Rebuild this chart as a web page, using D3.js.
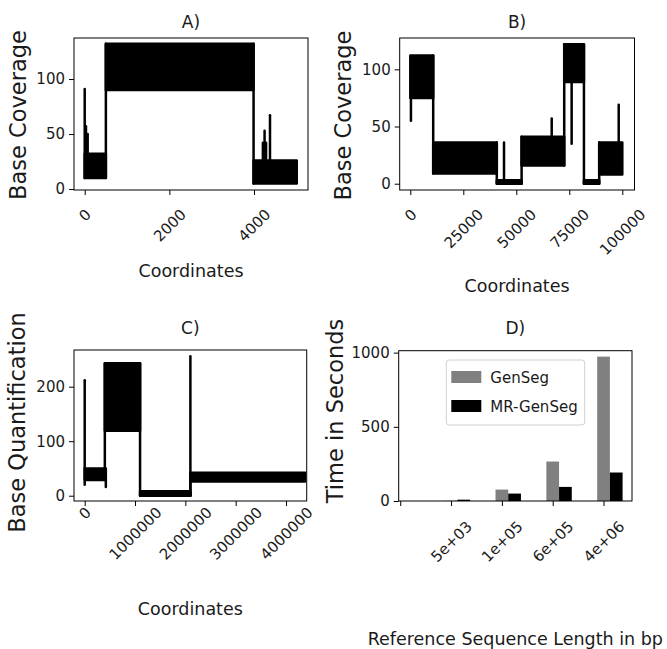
<!DOCTYPE html>
<html>
<head>
<meta charset="utf-8">
<script src="https://cdn.jsdelivr.net/npm/d3@7"></script>
<style>
  body { margin: 0; background: #fff; }
  svg text { font-family: "DejaVu Sans", sans-serif; fill: #1a1a1a; }
</style>
</head>
<body>
<div id="chart"></div>
<script>

// DATA
// coverage bands: [start, end, low, high]
const bandsA = [
  [0, 500, 10, 32],
  [500, 3990, 90, 132],
  [3990, 5010, 5, 26]
];
// single spikes: [position, low, high]
const spikesA = [
  [0, 10, 91], [30, 25, 57], [70, 25, 50],
  [4210, 20, 42], [4250, 20, 53], [4285, 20, 42], [4378, 20, 67]
];
const xTicksA = [0, 2000, 4000];
const yTicksA = [0, 50, 100];

const bandsB = [
  [0, 10800, 75, 112],
  [10800, 40800, 9, 36],
  [40800, 52500, 0, 3],
  [52500, 72600, 16, 41],
  [72600, 81900, 89, 122],
  [81900, 89100, 0, 3],
  [89100, 100000, 8, 36]
];
const spikesB = [
  [300, 55, 75], [44200, 3, 36], [66700, 41, 57], [76100, 35, 89], [98300, 36, 69]
];
const xTicksB = [0, 25000, 50000, 75000, 100000];
const yTicksB = [0, 50, 100];

const bandsC = [
  [0, 400000, 29, 50],
  [400000, 1100000, 119, 243],
  [1100000, 2100000, 0, 8],
  [2100000, 4380000, 26, 42]
];
const spikesC = [
  [0, 20, 212], [420000, 16, 50], [2100000, 0, 256]
];
const xTicksC = [0, 1000000, 2000000, 3000000, 4000000];
const yTicksC = [0, 100, 200];

// D) run time per reference length
const seqLabels = ["", "5e+03", "1e+05", "6e+05", "4e+06"];
const genSeg = [0, 1.5, 77, 266, 973];
const mrGenSeg = [0, 9, 50, 95, 192];
const seriesNames = ["GenSeg", "MR-GenSeg"];
const seriesColors = ["#808080", "#000000"];
const yTicksD = [0, 500, 1000];

const width = 667;
const height = 649;

const svg = d3.select("#chart")
  .append("svg")
  .attr("width", width)
  .attr("height", height);

svg.append("rect")
  .attr("width", width)
  .attr("height", height)
  .attr("fill", "#fff");

// rotated x tick labels, centred under their tick like matplotlib
function rotateLabels(axisG, gap) {
  axisG.selectAll(".tick text").each(function() {
    const t = d3.select(this);
    const w = this.getComputedTextLength();
    const box = (w + 11) / Math.SQRT2;
    t.attr("y", null)
      .attr("dy", null)
      .attr("text-anchor", "middle")
      .attr("dominant-baseline", "central")
      .attr("transform", `translate(0,${gap + box / 2}) rotate(-45)`);
  });
}

function styleAxis(axisG) {
  axisG.attr("font-size", 15).attr("font-family", "DejaVu Sans");
  axisG.select(".domain").remove();
  axisG.selectAll(".tick line").attr("stroke", "#000");
  axisG.selectAll(".tick text").attr("fill", "#1a1a1a");
}

function addLabels(opt) {
  svg.append("text")
    .attr("x", (opt.left + opt.right) / 2)
    .attr("y", opt.titleY)
    .attr("text-anchor", "middle")
    .attr("font-size", 17)
    .text(opt.title);

  svg.append("text")
    .attr("x", (opt.left + opt.right) / 2)
    .attr("y", opt.xLabelY)
    .attr("text-anchor", "middle")
    .attr("font-size", 17.5)
    .text(opt.xLabel);

  svg.append("text")
    .attr("transform", `translate(${opt.yLabelX},${opt.yLabelCY}) rotate(-90)`)
    .attr("text-anchor", "middle")
    .attr("font-size", 22.5)
    .text(opt.yLabel);
}

//  COVERAGE PANELS
function drawCoverage(opt) {
  const x = d3.scaleLinear().domain(opt.xDomain).range([opt.left, opt.right]);
  const y = d3.scaleLinear().domain(opt.yDomain).range([opt.bottom, opt.top]);

  const clipId = "clip-" + opt.title[0];
  svg.append("clipPath").attr("id", clipId)
    .append("rect")
    .attr("x", opt.left).attr("y", opt.top)
    .attr("width", opt.right - opt.left)
    .attr("height", opt.bottom - opt.top);

  const plot = svg.append("g").attr("clip-path", `url(#${clipId})`);

  // filled envelope of the dense line
  plot.selectAll("rect.band")
    .data(opt.bands)
    .enter()
    .append("rect")
    .attr("class", "band")
    .attr("x", d => x(d[0]))
    .attr("width", d => x(d[1]) - x(d[0]))
    .attr("y", d => y(d[3]))
    .attr("height", d => y(d[2]) - y(d[3]))
    .attr("fill", "#000")
    .attr("stroke", "#000")
    .attr("stroke-width", 2.5)
    .attr("stroke-linejoin", "round");

  // vertical jumps between consecutive bands
  const jumps = opt.bands.slice(1).map((d, i) => {
    const p = opt.bands[i];
    return [d[0], Math.min(p[2], d[2]), Math.max(p[3], d[3])];
  });

  plot.selectAll("line.spike")
    .data(jumps.concat(opt.spikes))
    .enter()
    .append("line")
    .attr("class", "spike")
    .attr("x1", d => x(d[0]))
    .attr("x2", d => x(d[0]))
    .attr("y1", d => y(d[1]))
    .attr("y2", d => y(d[2]))
    .attr("stroke", "#000")
    .attr("stroke-width", 2.5)
    .attr("stroke-linecap", "round");

  // FRAME
  svg.append("rect")
    .attr("x", opt.left).attr("y", opt.top)
    .attr("width", opt.right - opt.left)
    .attr("height", opt.bottom - opt.top)
    .attr("fill", "none")
    .attr("stroke", "#000")
    .attr("stroke-width", 1);

  const yAxis = svg.append("g")
    .attr("transform", `translate(${opt.left},0)`)
    .call(d3.axisLeft(y).tickValues(opt.yTicks).tickSize(5).tickPadding(4).tickFormat(d3.format("d")));
  styleAxis(yAxis);

  const xAxis = svg.append("g")
    .attr("transform", `translate(0,${opt.bottom})`)
    .call(d3.axisBottom(x).tickValues(opt.xTicks).tickSize(5).tickFormat(d3.format("d")));
  styleAxis(xAxis);
  rotateLabels(xAxis, opt.labelGap);

  addLabels(opt);
}

drawCoverage({
  title: "A)", xLabel: "Coordinates", yLabel: "Base Coverage",
  bands: bandsA, spikes: spikesA, xTicks: xTicksA, yTicks: yTicksA,
  xDomain: [-253, 5276], yDomain: [-0.9, 137.3],
  left: 74, right: 308, top: 38, bottom: 190,
  titleY: 28, xLabelY: 277, yLabelX: 26, yLabelCY: 115, labelGap: 18
});

drawCoverage({
  title: "B)", xLabel: "Coordinates", yLabel: "Base Coverage",
  bands: bandsB, spikes: spikesB, xTicks: xTicksB, yTicks: yTicksB,
  xDomain: [-5000, 105750], yDomain: [-5.5, 127.4],
  left: 399.7, right: 634.5, top: 38, bottom: 190,
  titleY: 28, xLabelY: 292, yLabelX: 351, yLabelCY: 115.5, labelGap: 18
});

drawCoverage({
  title: "C)", xLabel: "Coordinates", yLabel: "Base Quantification",
  bands: bandsC, spikes: spikesC, xTicks: xTicksC, yTicks: yTicksC,
  xDomain: [-212600, 4411000], yDomain: [-9.7, 267.3],
  left: 74, right: 306.7, top: 350, bottom: 501,
  titleY: 334, xLabelY: 615, yLabelX: 25, yLabelCY: 422.5, labelGap: 5
});

//  BAR PANEL (D)
const optD = {
  title: "D)", xLabel: "Reference Sequence Length in bp", yLabel: "Time in Seconds",
  left: 398.7, right: 632, top: 350.7, bottom: 501,
  titleY: 334, xLabelY: 645, yLabelX: 343, yLabelCY: 411
};

const xD = d3.scaleLinear().domain([-0.03, 4.56]).range([optD.left, optD.right]);
const yD = d3.scaleLinear().domain([0, 1013]).range([optD.bottom, optD.top]);
const barW = 0.25;

[genSeg, mrGenSeg].forEach((vals, s) => {
  svg.append("g")
    .selectAll("rect")
    .data(vals)
    .enter()
    .append("rect")
    .attr("x", (d, i) => xD(i - barW / 2 + s * barW))
    .attr("width", xD(barW) - xD(0))
    .attr("y", d => yD(d))
    .attr("height", d => yD(0) - yD(d))
    .attr("fill", seriesColors[s]);
});

svg.append("rect")
  .attr("x", optD.left).attr("y", optD.top)
  .attr("width", optD.right - optD.left)
  .attr("height", optD.bottom - optD.top)
  .attr("fill", "none")
  .attr("stroke", "#000")
  .attr("stroke-width", 1);

const yAxisD = svg.append("g")
  .attr("transform", `translate(${optD.left},0)`)
  .call(d3.axisLeft(yD).tickValues(yTicksD).tickSize(5).tickPadding(4).tickFormat(d3.format("d")));
styleAxis(yAxisD);

const xAxisD = svg.append("g")
  .attr("transform", `translate(0,${optD.bottom})`)
  .call(d3.axisBottom(xD).tickValues(d3.range(seqLabels.length)).tickSize(5)
    .tickFormat(i => seqLabels[i]));
styleAxis(xAxisD);
rotateLabels(xAxisD, 19);

addLabels(optD);

// LEGEND
const legend = svg.append("g")
  .attr("transform", "translate(446.3,360)");

legend.append("rect")
  .attr("width", 138.4)
  .attr("height", 65)
  .attr("rx", 3)
  .attr("fill", "#fff")
  .attr("fill-opacity", 0.8)
  .attr("stroke", "#d0d0d0");

const items = legend.selectAll("g.item")
  .data(seriesNames)
  .enter()
  .append("g")
  .attr("class", "item")
  .attr("transform", (d, i) => `translate(5,${11 + i * 29})`);

items.append("rect")
  .attr("width", 30)
  .attr("height", 12)
  .attr("fill", (d, i) => seriesColors[i]);

items.append("text")
  .attr("x", 39)
  .attr("y", 12)
  .attr("font-size", 15)
  .text(d => d);

</script>
</body>
</html>
